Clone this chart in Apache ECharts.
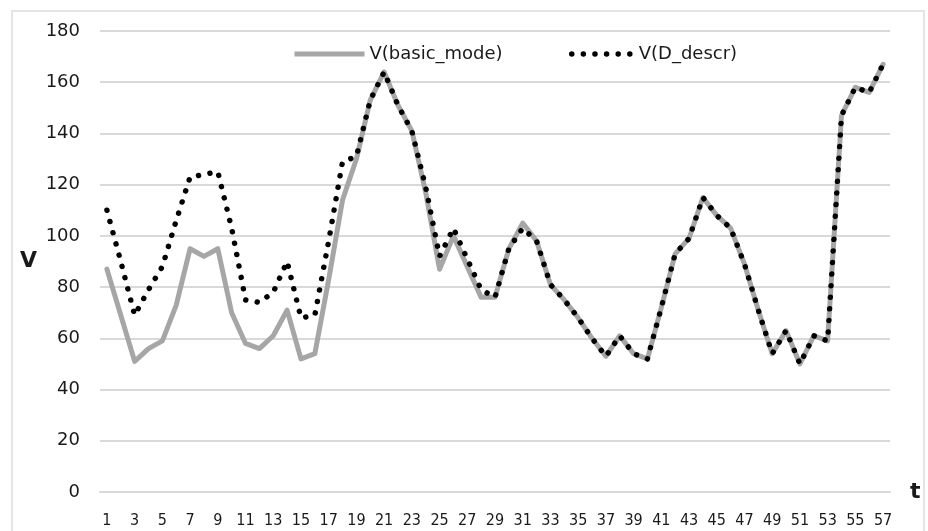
<!DOCTYPE html>
<html>
<head>
<meta charset="utf-8">
<script src="https://cdn.jsdelivr.net/npm/echarts@6/dist/echarts.min.js"></script>
<style>
html,body{margin:0;padding:0;background:#fff;}
#chart{width:928px;height:531px;}
</style>
</head>
<body>
<div id="chart"></div>
<script>
var categories = [];
for (var i = 1; i <= 57; i++) categories.push(String(i));

var basicMode = [87,69,51,56,59,73,95,92,95,70,58,56,61,71,52,54,83,114,130,153,164,151,141,117,87,100,88,76,76,95,105,98,81,75,68,60,53,61,54,52,72,93,99,115,108,103,89,71,54,63,50,61,59,147,158,156,167];
var dDescr = [110,90,69,79,88,106,123,124,125,103,75,74,78,90,68,69,98,129,131,153,164,151,141,119,92,103,91,79,76,95,103,98,81,75,68,60,53,61,54,52,72,93,99,115,108,103,89,71,54,63,50,61,59,147,158,156,167];

var seriesNames = ['V(basic_mode)', 'V(D_descr)'];
var yTicks = { min: 0, max: 180, interval: 20 };

var chart = echarts.init(document.getElementById('chart'), null, { renderer: 'canvas' });
var textColor = '#1a1a1a';
var dotDash = [0.01, 11.6];
chart.setOption({
  animation: false,
  backgroundColor: '#ffffff',
  grid: { left: 100, right: 38, top: 31, bottom: 39, containLabel: false },
  legend: [
    {
      data: [seriesNames[0]], left: 287, top: 40, itemWidth: 70, itemHeight: 20,
      textStyle: { fontFamily: 'DejaVu Sans', fontSize: 18, color: textColor },
      itemStyle: { color: 'rgba(0,0,0,0)', borderWidth: 0 },
      lineStyle: { width: 5, color: '#a6a6a6', cap: 'butt' },
      itemGap: 0
    },
    {
      data: [seriesNames[1]], left: 564, top: 40, itemWidth: 62, itemHeight: 20,
      textStyle: { fontFamily: 'DejaVu Sans', fontSize: 18, color: textColor },
      itemStyle: { color: 'rgba(0,0,0,0)', borderWidth: 0 },
      lineStyle: { width: 5.5, color: '#000000', type: dotDash, cap: 'round' },
      itemGap: 0
    }
  ],
  xAxis: {
    type: 'category',
    data: categories,
    boundaryGap: true,
    name: 't',
    nameLocation: 'end',
    nameGap: 20,
    nameTextStyle: { fontFamily: 'DejaVu Sans', fontSize: 22, fontWeight: 'bold', color: textColor, verticalAlign: 'middle' },
    axisLine: { show: true, lineStyle: { color: '#d9d9d9', width: 2 } },
    axisTick: { show: false },
    axisLabel: {
      interval: 1, margin: 21,
      fontFamily: "'Liberation Sans Narrow', 'DejaVu Sans Condensed', sans-serif",
      fontSize: 16, color: textColor
    },
    splitLine: { show: false }
  },
  yAxis: {
    type: 'value',
    min: yTicks.min, max: yTicks.max, interval: yTicks.interval,
    axisLine: { show: false },
    axisTick: { show: false },
    axisLabel: { margin: 20, fontFamily: 'DejaVu Sans', fontSize: 18, color: textColor },
    splitLine: { show: true, lineStyle: { color: '#d9d9d9', width: 2 } }
  },
  graphic: [
    {
      type: 'rect', silent: true, z: -1,
      shape: { x: 12, y: 11, width: 912, height: 522 },
      style: { fill: 'none', stroke: '#e4e4e4', lineWidth: 2 }
    },
    {
      type: 'text', left: 20, top: 250,
      style: { text: 'V', fontFamily: 'DejaVu Sans', fontSize: 22, fontWeight: 'bold', fill: textColor }
    }
  ],
  series: [
    {
      name: seriesNames[0], type: 'line', data: basicMode, symbol: 'none', smooth: false,
      lineStyle: { color: '#a6a6a6', width: 5, join: 'round', cap: 'round' },
      itemStyle: { color: '#a6a6a6' }, z: 2
    },
    {
      name: seriesNames[1], type: 'line', data: dDescr, symbol: 'none', smooth: false,
      lineStyle: { color: '#000000', width: 5.5, type: dotDash, cap: 'round', join: 'round' },
      itemStyle: { color: '#000000' }, z: 3
    }
  ]
});
</script>
</body>
</html>
